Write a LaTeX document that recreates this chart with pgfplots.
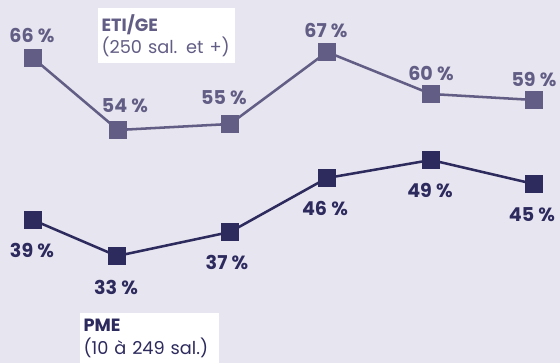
\documentclass[border=0pt]{standalone}
\usepackage{pgfplots}
\pgfplotsset{compat=1.18}
\usepackage{pgfplotstable}
\usepackage{fontspec}
\setmainfont{Poppins}
\definecolor{bgc}{RGB}{231,229,239}
\definecolor{upc}{RGB}{98,93,133}
\definecolor{loc}{RGB}{45,42,94}
\pgfplotstableread{
x y dx dy
33 66 -1 22
118 54 7 24
230 55 -6 26
327 67 -1 21
431 60 0 20
534 59 0 21
}\etidata
\pgfplotstableread{
x y dx dy
33 39 -1 30
117 33 -1 31
230 37 -3 30
327 46 -2 31
431 49 -1 30
534 45 -2 31
}\pmedata
\begin{document}
\begin{tikzpicture}[x=0.75pt,y=0.75pt]
\begin{axis}[
  scale only axis, width=420pt, height=272.25pt,
  xmin=0, xmax=560, ymin=15.1667, ymax=75.6667,
  hide axis, clip=false,
  /pgf/number format/assume math mode=true,
  nodes near coords={\fontsize{14.3}{16}\selectfont\bfseries\pgfmathprintnumber{\pgfplotspointmeta}\hspace{0.22em}\%},
  point meta=explicit,
]
\fill[bgc] (rel axis cs:0,0) rectangle (rel axis cs:1,1);
\coordinate (sw) at (rel axis cs:0,0);
\coordinate (ne) at (rel axis cs:1,1);
\addplot[color=upc, line width=1.9pt, mark=square*, mark size=5.7pt,
  visualization depends on={\thisrow{dx} \as \dx},
  visualization depends on={\thisrow{dy} \as \dy},
  every node near coord/.style={anchor=center, text=upc, xshift=0.75pt*\dx, yshift=0.75pt*\dy}]
  table[x=x, y=y, meta=y] {\etidata};
\addplot[color=loc, line width=1.9pt, mark=square*, mark size=5.7pt,
  visualization depends on={\thisrow{dx} \as \dx},
  visualization depends on={\thisrow{dy} \as \dy},
  every node near coord/.style={anchor=center, text=loc, xshift=0.75pt*\dx, yshift=-0.75pt*\dy}]
  table[x=x, y=y, meta=y] {\pmedata};
\node[fill=white, anchor=north west, inner xsep=2.5pt, inner ysep=4.5pt, text width=97.75pt, align=left, text=upc, font=\fontsize{13.3}{17}\selectfont] at (axis cs:98,74.333) {\textbf{ETI/GE}\\\mbox{(250 sal. et +)}};
\node[fill=white, anchor=north west, inner xsep=2.5pt, inner ysep=4.5pt, text width=99pt, align=left, text=loc, font=\fontsize{13.3}{17}\selectfont] at (axis cs:80,23.5) {\textbf{PME}\\\mbox{(10 à 249 sal.)}};
\end{axis}
\pgfresetboundingbox
\path[use as bounding box] (sw) rectangle (ne);
\end{tikzpicture}
\end{document}
